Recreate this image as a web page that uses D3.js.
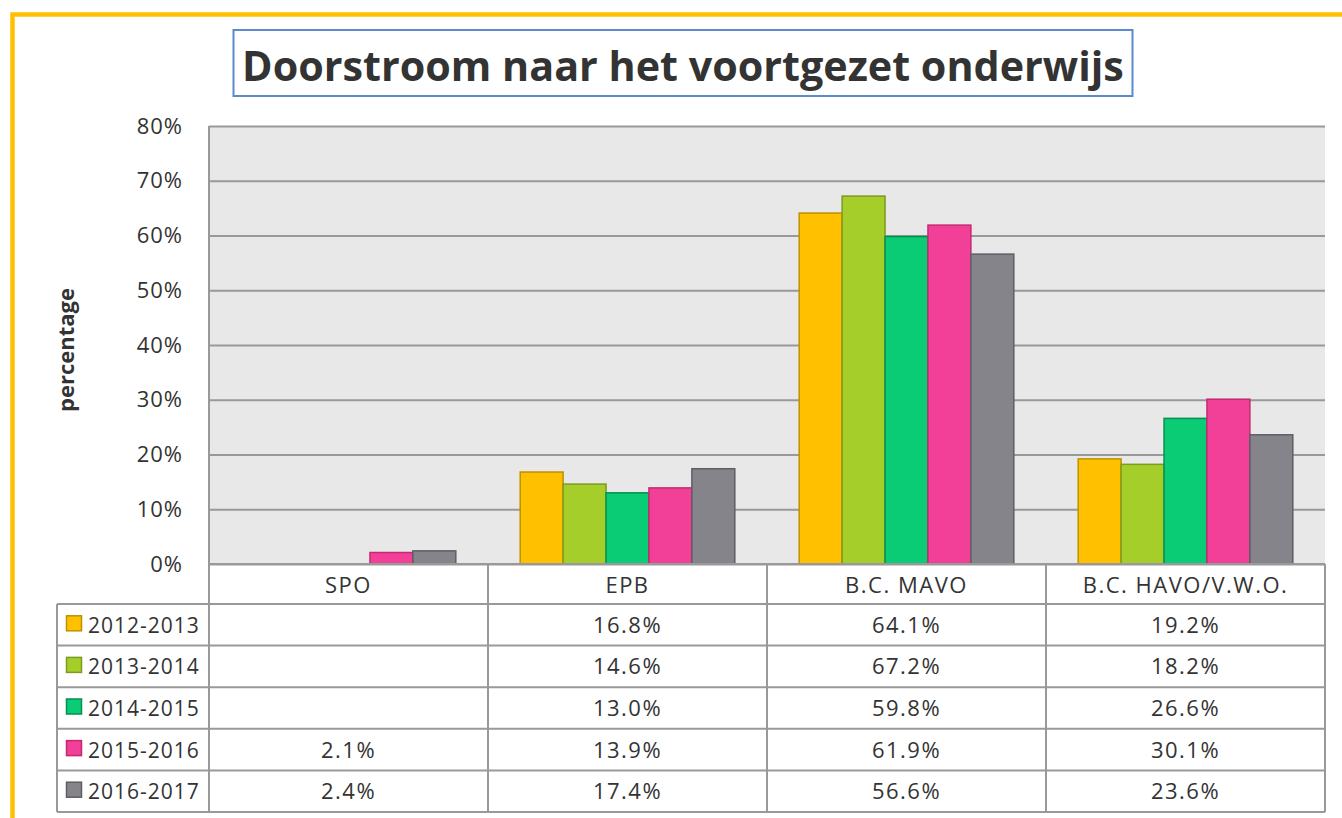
<!DOCTYPE html>
<html>
<head>
<meta charset="utf-8">
<script src="https://cdn.jsdelivr.net/npm/d3@7"></script>
<style>
	body { margin: 0; background: #fff; }
	text { font-family: "Open Sans", "Noto Sans", sans-serif; fill: #333; }
</style>
</head>
<body>
<script>
//categories on the x axis
var categories = ["SPO", "EPB", "B.C. MAVO", "B.C. HAVO/V.W.O."];

//school years (series)
var seasons = ["2012-2013", "2013-2014", "2014-2015", "2015-2016", "2016-2017"];

//percentages per series, same order as categories (null = no value)
var v2012 = [null, 16.8, 64.1, 19.2];
var v2013 = [null, 14.6, 67.2, 18.2];
var v2014 = [null, 13.0, 59.8, 26.6];
var v2015 = [2.1, 13.9, 61.9, 30.1];
var v2016 = [2.4, 17.4, 56.6, 23.6];

var yTicks = [0, 10, 20, 30, 40, 50, 60, 70, 80];

var fills   = ["#FFC000", "#A6CE2A", "#0ACC75", "#F23F97", "#85848A"];
var strokes = ["#BF9000", "#7C9B1F", "#078F52", "#C32A73", "#5F5E64"];

window.onload = function(){
	var w = 1342, h = 818;
	var left = 209, right = 1325, top = 126, bottom = 564;
	var rowH = 41.6, headH = 40, tableLeft = 57;

	var series = [v2012, v2013, v2014, v2015, v2016];

	var svg = d3.select("body")
		.append("svg")
		.attr("width", w)
		.attr("height", h)
		.attr("class", "container");

	//outer yellow frame
	svg.append("rect")
		.attr("x", 12.5)
		.attr("y", 14.5)
		.attr("width", 1400)
		.attr("height", 900)
		.style("fill", "#fff")
		.style("stroke", "#FFC000")
		.style("stroke-width", 4.5);

	//title box
	svg.append("rect")
		.attr("x", 233.5)
		.attr("y", 30)
		.attr("width", 899)
		.attr("height", 66)
		.style("fill", "#fff")
		.style("stroke", "#5B8BCB")
		.style("stroke-width", 2);

	var title = svg.append("text")
		.attr("x", 683)
		.attr("y", 81)
		.attr("text-anchor", "middle")
		.style("font-weight", "bold")
		.style("font-size", "40px")
		.text("Doorstroom naar het voortgezet onderwijs");
	//fit the title into the box width
	var tl = title.node().getComputedTextLength();
	title.style("font-size", (40 * 882 / tl) + "px");

	//plot background
	svg.append("rect")
		.attr("x", left)
		.attr("y", top)
		.attr("width", right - left)
		.attr("height", bottom - top)
		.style("fill", "#E8E8E8");

	var y = d3.scaleLinear()
		.domain([0, 80])
		.range([bottom, top]);

	var x = d3.scaleBand()
		.domain(categories)
		.range([left, right]);

	var xs = d3.scaleBand()
		.domain(seasons)
		.range([0, x.bandwidth()])
		.paddingOuter(0.75);

	var yAxis = d3.axisLeft(y)
		.tickValues(yTicks)
		.tickSize(-(right - left))
		.tickPadding(26)
		.tickFormat(function(d){ return d + "%"; });

	var axis = svg.append("g")
		.attr("class", "axis")
		.attr("transform", "translate(" + left + ",0)")
		.call(yAxis);
	axis.select(".domain").remove();
	axis.selectAll("line")
		.style("stroke", "#999")
		.style("stroke-width", 2);
	axis.selectAll("text")
		.style("font-size", "22px")
		.style("letter-spacing", "1px")
		.style("fill", "#333")
		.style("font-family", "'Open Sans', sans-serif");

	//left edge of plot
	svg.append("line")
		.attr("x1", left).attr("x2", left)
		.attr("y1", top).attr("y2", bottom)
		.style("stroke", "#999")
		.style("stroke-width", 2);

	svg.append("text")
		.attr("transform", "translate(74,350) rotate(-90)")
		.attr("text-anchor", "middle")
		.style("font-weight", "bold")
		.style("font-size", "22px")
		.text("percentage");

	//bars
	series.forEach(function(vals, s){
		svg.selectAll(".bar" + s)
			.data(vals.map(function(v, i){ return {cat: categories[i], v: v}; })
				.filter(function(d){ return d.v !== null; }))
			.enter()
			.append("rect")
			.attr("class", "bar" + s)
			.attr("x", function(d){ return x(d.cat) + xs(seasons[s]); })
			.attr("y", function(d){ return y(d.v); })
			.attr("width", xs.bandwidth())
			.attr("height", function(d){ return bottom - y(d.v); })
			.style("fill", fills[s])
			.style("stroke", strokes[s])
			.style("stroke-width", 1.5);
	});

	//data table
	var grid = svg.append("g").attr("class", "table");
	var tBottom = bottom + headH + rowH * seasons.length;

	grid.append("line")
		.attr("x1", left).attr("x2", right)
		.attr("y1", bottom).attr("y2", bottom);
	for (var r = 0; r <= seasons.length; r++) {
		grid.append("line")
			.attr("x1", tableLeft).attr("x2", right)
			.attr("y1", bottom + headH + r * rowH)
			.attr("y2", bottom + headH + r * rowH);
	}
	grid.append("line")
		.attr("x1", tableLeft).attr("x2", tableLeft)
		.attr("y1", bottom + headH).attr("y2", tBottom);
	categories.forEach(function(c){
		grid.append("line")
			.attr("x1", x(c)).attr("x2", x(c))
			.attr("y1", bottom).attr("y2", tBottom);
	});
	grid.append("line")
		.attr("x1", right).attr("x2", right)
		.attr("y1", bottom).attr("y2", tBottom);
	grid.selectAll("line")
		.style("stroke", "#999")
		.style("stroke-width", 2);

	//column headers
	svg.selectAll(".catLabel")
		.data(categories)
		.enter()
		.append("text")
		.attr("class", "catLabel")
		.attr("x", function(d){ return x(d) + x.bandwidth() / 2; })
		.attr("y", bottom + 29)
		.attr("text-anchor", "middle")
		.style("font-size", "22px")
		.style("letter-spacing", "1.5px")
		.text(function(d){ return d; });

	//row headers with legend keys
	seasons.forEach(function(s, i){
		var cy = bottom + headH + i * rowH + rowH / 2;
		svg.append("rect")
			.attr("x", 66.5)
			.attr("y", cy - 9)
			.attr("width", 15)
			.attr("height", 15)
			.style("fill", fills[i])
			.style("stroke", strokes[i])
			.style("stroke-width", 1.5);
		svg.append("text")
			.attr("x", 88)
			.attr("y", cy + 8)
			.style("font-size", "21px")
			.style("letter-spacing", "1px")
			.text(s);

		svg.selectAll(".val" + i)
			.data(series[i].map(function(v, j){ return {cat: categories[j], v: v}; })
				.filter(function(d){ return d.v !== null; }))
			.enter()
			.append("text")
			.attr("class", "val" + i)
			.attr("x", function(d){ return x(d.cat) + x.bandwidth() / 2; })
			.attr("y", cy + 8)
			.attr("text-anchor", "middle")
			.style("font-size", "22px")
			.style("letter-spacing", "1.5px")
			.text(function(d){ return d.v.toFixed(1) + "%"; });
	});
};
</script>
</body>
</html>
